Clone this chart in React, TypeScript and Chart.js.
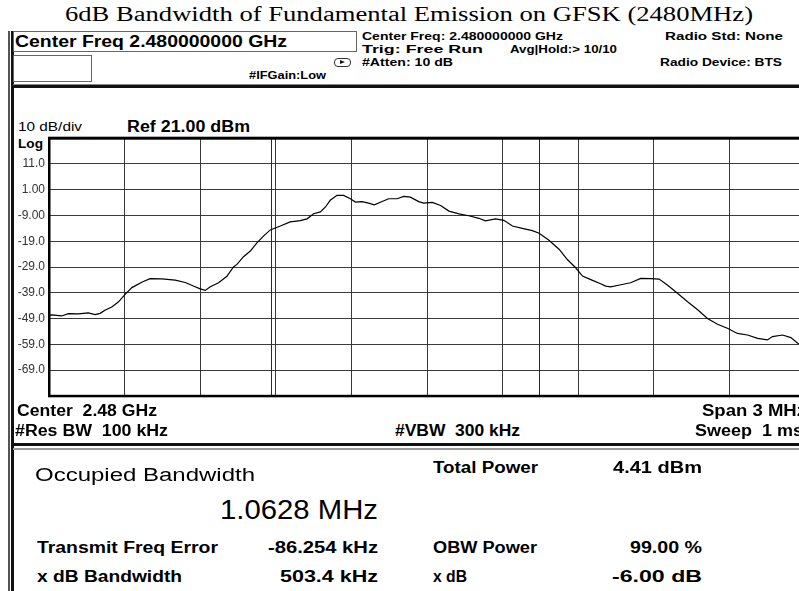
import React, { useEffect, useLayoutEffect, useRef } from 'react';
import { Chart, registerables } from 'chart.js';

Chart.register(...registerables);

// ---- data ----
const Y_TICKS_DBM = [21, 11, 1, -9, -19, -29, -39, -49, -59, -69, -79];
const X_DIVISIONS_MHZ = [-1.5, -1.2, -0.9, -0.6, -0.3, 0, 0.3, 0.6, 0.9, 1.2, 1.5];
const OBW_MHZ = 1.0628;
const FREQ_ERROR_MHZ = -0.086254;

const FREQ_OFFSET_MHZ = [
  -1.5, -1.489, -1.45, -1.423, -1.384, -1.344, -1.317, -1.297, -1.278, -1.251,
  -1.225, -1.198, -1.171, -1.132, -1.099, -1.052, -0.999, -0.959, -0.927, -0.9,
  -0.88, -0.86, -0.827, -0.794, -0.768, -0.754, -0.728, -0.701, -0.675, -0.649,
  -0.622, -0.582, -0.543, -0.503, -0.476, -0.45, -0.423, -0.403, -0.384, -0.357,
  -0.331, -0.304, -0.284, -0.258, -0.232, -0.209, -0.178, -0.152, -0.119, -0.092,
  -0.066, -0.033, -0.013, 0.021, 0.054, 0.087, 0.127, 0.166, 0.206, 0.232,
  0.272, 0.305, 0.339, 0.378, 0.418, 0.445, 0.484, 0.524, 0.557, 0.59,
  0.617, 0.657, 0.689, 0.709, 0.729, 0.769, 0.808, 0.848, 0.888, 0.921,
  0.955, 0.994, 1.034, 1.073, 1.113, 1.153, 1.192, 1.232, 1.272, 1.312,
  1.351, 1.371, 1.411, 1.444, 1.471, 1.5,
];
const LEVEL_DBM = [
  -47.8, -47.6, -48, -47.1, -47.2, -46.8, -47.5, -47, -45.8, -44.5,
  -42.6, -39.6, -37, -34.9, -33.5, -33.6, -34.1, -35, -36.4, -37.5,
  -38.1, -36.7, -35.1, -32.6, -29, -28, -25, -22.8, -19.6, -17,
  -14.6, -13.1, -11.5, -11, -10.3, -8.3, -7.6, -5.7, -3.1, -1.2,
  -1.2, -2.5, -3.8, -3.6, -4.2, -4.9, -3.6, -2.5, -2.5, -1.6,
  -1.9, -3.6, -4.2, -3.9, -5.1, -7.3, -8.4, -9.1, -10.1, -11.1,
  -10.3, -10.9, -13.1, -14, -14.9, -15.9, -18.6, -22.1, -26.1, -29.3,
  -32.5, -34.2, -35.5, -36.4, -36.7, -35.9, -35.1, -33.4, -33.5, -33.7,
  -36.1, -39.2, -42.5, -45.5, -49, -51.2, -52.8, -54.8, -55.4, -56.7,
  -57.3, -56, -55.4, -56.4, -58.6, -59,
];

const SANS = 'Arial, "Liberation Sans", sans-serif';
const SERIF = '"Times New Roman", "Liberation Serif", serif';

type TProps = {
  x: number; base: number; size: number; text: string;
  w?: number; bold?: boolean; serif?: boolean; color?: string;
};

function T({ x, base, size, text, w, bold = true, serif = false, color = '#000' }: TProps) {
  const ref = useRef<HTMLDivElement>(null);
  useLayoutEffect(() => {
    const el = ref.current;
    if (!el || !w) return;
    const nat = el.getBoundingClientRect().width;
    if (nat > 0) el.style.transform = `scaleX(${w / nat})`;
  }, [w]);
  const k = serif ? 0.8375 : 0.8465;
  return (
    <div
      ref={ref}
      style={{
        position: 'absolute', left: x, top: base - k * size,
        fontFamily: serif ? SERIF : SANS, fontSize: size, lineHeight: `${size}px`,
        fontWeight: bold ? 700 : 400, color, whiteSpace: 'pre',
        transformOrigin: 'left top',
      }}
    >
      {text}
    </div>
  );
}

function Box(props: { l: number; t: number; w: number; h: number; bg?: string; border?: string; radius?: number }) {
  return (
    <div style={{
      position: 'absolute', left: props.l, top: props.t, width: props.w, height: props.h,
      background: props.bg ?? 'transparent', border: props.border, boxSizing: 'border-box',
      borderRadius: props.radius,
    }} />
  );
}

function Spectrum() {
  const ref = useRef<HTMLCanvasElement>(null);
  useEffect(() => {
    const canvas = ref.current;
    if (!canvas) return;
    const points = FREQ_OFFSET_MHZ.map((x, i) => ({ x, y: LEVEL_DBM[i] }));
    const obwEdges = [FREQ_ERROR_MHZ - OBW_MHZ / 2, FREQ_ERROR_MHZ + OBW_MHZ / 2];
    const framePlugin = {
      id: 'frame',
      beforeDatasetsDraw(chart: any) {
        const { ctx, chartArea: a, scales } = chart;
        ctx.save();
        ctx.strokeStyle = '#2a2a2a';
        ctx.lineWidth = 1;
        obwEdges.forEach((f) => {
          const px = Math.round(scales.x.getPixelForValue(f)) + 0.5;
          ctx.beginPath();
          ctx.moveTo(px, a.top);
          ctx.lineTo(px, a.bottom);
          ctx.stroke();
        });
        ctx.restore();
      },
      afterDraw(chart: any) {
        const { ctx, chartArea: a } = chart;
        ctx.save();
        ctx.fillStyle = '#000';
        ctx.fillRect(a.left - 1, a.top - 1.5, a.right - a.left + 2, 3);
        ctx.fillRect(a.left - 1, a.top, 2.5, a.bottom - a.top);
        ctx.fillRect(a.left - 1, a.bottom - 1, a.right - a.left + 2, 2.5);
        ctx.restore();
      },
    };
    const chart = new Chart(canvas, {
      type: 'line',
      data: {
        datasets: [{
          data: points, borderColor: '#000', borderWidth: 1.2,
          pointRadius: 0, tension: 0, fill: false,
        }],
      },
      options: {
        animation: false,
        responsive: false,
        devicePixelRatio: 1,
        layout: { padding: { top: 10, bottom: 9, right: 7, left: 0 } },
        plugins: { legend: { display: false }, tooltip: { enabled: false } },
        scales: {
          x: {
            type: 'linear', min: -1.5, max: 1.5,
            afterBuildTicks: (s: any) => { s.ticks = X_DIVISIONS_MHZ.map((v) => ({ value: v })); },
            afterFit: (s: any) => { s.height = 0; },
            ticks: { display: false },
            grid: { color: '#3a3a3a', lineWidth: 1, drawTicks: false },
            border: { display: false },
          },
          y: {
            type: 'linear', min: -79, max: 21,
            afterBuildTicks: (s: any) => { s.ticks = Y_TICKS_DBM.map((v) => ({ value: v })); },
            afterFit: (s: any) => { s.width = 49; },
            ticks: {
              autoSkip: false, padding: 4, color: '#333',
              font: { family: 'Arial, "Liberation Sans"', size: 12 },
              callback: (v: any) => (v === Y_TICKS_DBM[0] || v === Y_TICKS_DBM[Y_TICKS_DBM.length - 1]) ? '' : Number(v).toPrecision(3),
            },
            grid: { color: '#3a3a3a', lineWidth: 1, drawTicks: false },
            border: { display: false },
          },
        },
      },
      plugins: [framePlugin],
    } as any);
    return () => chart.destroy();
  }, []);
  return (
    <canvas
      ref={ref}
      width={812}
      height={280}
      style={{ position: 'absolute', left: 0, top: 127, width: 812, height: 280 }}
    />
  );
}

export default function App() {
  return (
    <div style={{ position: 'fixed', left: 0, top: 0, width: 799, height: 591, overflow: 'hidden', background: '#fff' }}>
      <T x={65} base={20.5} size={20} w={688} serif bold={false} text="6dB Bandwidth of Fundamental Emission on GFSK (2480MHz)" />

      {/* left instrument bars */}
      <Box l={8} t={31} w={2} h={560} bg="#555" />
      <Box l={11} t={31} w={3} h={560} bg="#111" />

      {/* header */}
      <Box l={13} t={31} w={344} h={21} border="1px solid #666" />
      <Box l={13} t={55} w={79} h={27} border="1px solid #666" />
      <T x={15} base={48} size={16} w={272} text="Center Freq 2.480000000 GHz" />
      <T x={249} base={79.5} size={10} w={77} text="#IFGain:Low" />
      <Box l={334} t={58} w={17} h={9} border="1px solid #333" radius={4} />
      <div style={{ position: 'absolute', left: 340, top: 60, width: 0, height: 0, borderTop: '2.5px solid transparent', borderBottom: '2.5px solid transparent', borderLeft: '5px solid #111' }} />
      <T x={362} base={40.5} size={11} w={201} text="Center Freq: 2.480000000 GHz" />
      <T x={362} base={53.5} size={11} w={121} text="Trig: Free Run" />
      <T x={510} base={53.5} size={11} w={107} text="Avg|Hold:> 10/10" />
      <T x={362} base={66} size={11} w={91} text="#Atten: 10 dB" />
      <T x={665} base={40.5} size={11} w={118} text="Radio Std: None" />
      <T x={660} base={66} size={11} w={122} text="Radio Device: BTS" />
      <Box l={13} t={84} w={786} h={1} bg="#888" />
      <Box l={13} t={85} w={786} h={3} bg="#111" />

      {/* plot annotations */}
      <T x={18} base={131.5} size={13} w={64} bold={false} text="10 dB/div" />
      <T x={127} base={132.5} size={16} w={123} text="Ref 21.00 dBm" />
      <T x={18} base={148} size={13} w={25} text="Log" />
      <Spectrum />
      <T x={17} base={417} size={16} w={140} text="Center  2.48 GHz" />
      <T x={15} base={437} size={16} w={153} text="#Res BW  100 kHz" />
      <T x={395} base={437} size={16} w={125} text="#VBW  300 kHz" />
      <T x={702} base={417} size={16} w={104} text="Span 3 MHz" />
      <T x={695} base={437} size={16} w={108} text="Sweep  1 ms" />
      <Box l={13} t={443} w={786} h={3} bg="#111" />
      <Box l={13} t={448} w={786} h={1.5} bg="#999" />

      {/* results */}
      <T x={35} base={481} size={18} w={220} bold={false} text="Occupied Bandwidth" />
      <T x={220} base={520} size={27} w={158} bold={false} text="1.0628 MHz" />
      <T x={37} base={554} size={16} w={181} text="Transmit Freq Error" />
      <T x={268} base={554} size={16} w={110} text="-86.254 kHz" />
      <T x={37} base={583} size={16} w={145} text="x dB Bandwidth" />
      <T x={280} base={583} size={16} w={98} text="503.4 kHz" />
      <T x={433} base={474} size={16} w={105} text="Total Power" />
      <T x={613} base={474} size={16} w={89} text="4.41 dBm" />
      <T x={433} base={554} size={16} w={104} text="OBW Power" />
      <T x={630} base={554} size={16} w={72} text="99.00 %" />
      <T x={433} base={583} size={16} w={34} text="x dB" />
      <T x={612} base={583} size={16} w={90} text="-6.00 dB" />
    </div>
  );
}
